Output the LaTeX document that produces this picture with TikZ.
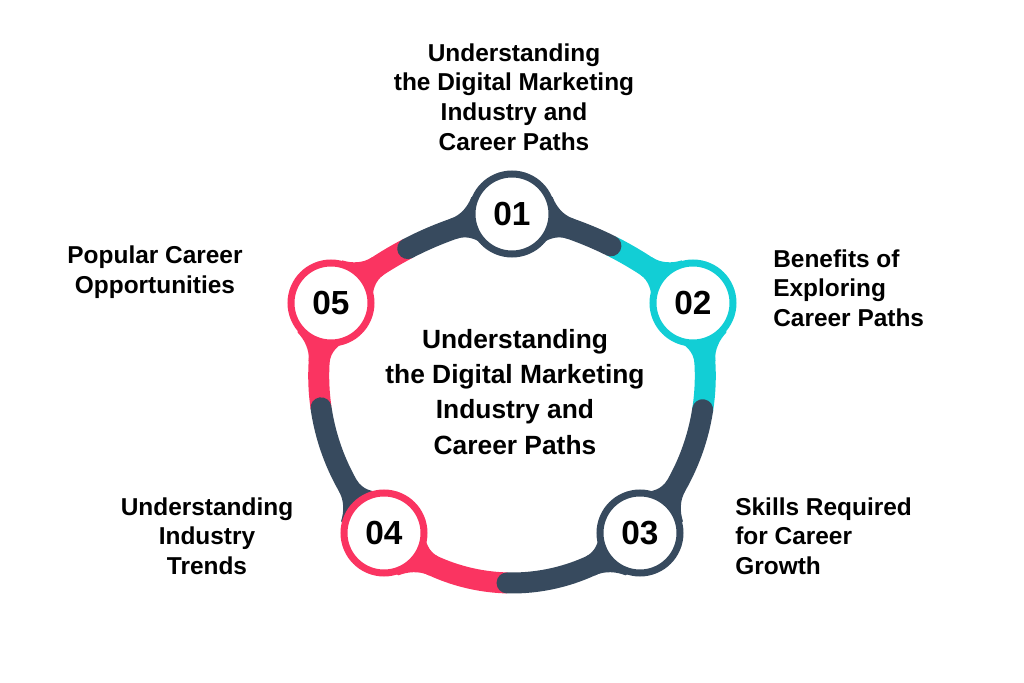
\documentclass[tikz,border=0pt]{standalone}
\usepackage{fontspec}
\setmainfont{Liberation Sans}
\usetikzlibrary{calc}
\definecolor{slate}{HTML}{374A5E}
\definecolor{aqua}{HTML}{12CED5}
\definecolor{rose}{HTML}{FA3461}

\newcommand{\ringneck}[5]{%
  \pgfmathsetmacro\nkA{#3+(#4)*1.2/#2*57.2958}%
  \pgfmathsetmacro\nkB{#3+(#4)*0.98/#2*57.2958}%
  \pgfmathsetmacro\nkC{#3+(#4)*0.80/#2*57.2958}%
  \pgfmathsetmacro\nkD{#3+(#4)*0.70/#2*57.2958}%
  \pgfmathsetmacro\nrA{#2+0.21}\pgfmathsetmacro\nrB{#2+0.35}%
  \pgfmathsetmacro\nrC{#2+0.5}\pgfmathsetmacro\nrD{#2+0.55}%
  \pgfmathsetmacro\nrE{#2-0.21}\pgfmathsetmacro\nrF{#2-0.35}%
  \pgfmathsetmacro\nrG{#2-0.5}\pgfmathsetmacro\nrH{#2-0.55}%
  \fill[#5] ($(#1)+(\nkA:\nrA)$) .. controls ($(#1)+(\nkB:\nrA)$) and ($(#1)+(\nkC:\nrB)$) .. ($(#1)+(\nkD:\nrC)$)
    -- ($(#1)+(#3:\nrD)$) -- ($(#1)+(#3:\nrH)$) -- ($(#1)+(\nkD:\nrG)$)
    .. controls ($(#1)+(\nkC:\nrF)$) and ($(#1)+(\nkB:\nrE)$) .. ($(#1)+(\nkA:\nrE)$) -- cycle;%
}

\tikzset{
  band/.style={line width=0.42cm},
  numnode/.style={circle, fill=white, line width=0.14cm, minimum size=1.6cm, inner sep=0pt,
    font=\fontsize{19}{22}\selectfont\bfseries},
  steplabel/.style={inner sep=0pt, font=\fontsize{13.9}{16.8}\selectfont\bfseries},
}

\begin{document}
\begin{tikzpicture}
\useasboundingbox (0,0) rectangle (20.48,-13.66);

\coordinate (c1) at (9.126,-11.118);
\coordinate (c2) at (9.67,-7.516);
\coordinate (c3) at (10.24,-7.884);
\coordinate (c4) at (10.81,-7.516);
\coordinate (c5) at (11.354,-11.118);

\draw[band,aqua] (c1) ++(63.5:6.93) arc (63.5:46.9:6.93);
\draw[band,aqua] (c2) ++(19.16:4.436) arc (19.16:-8.8:4.436);
\draw[band,rose] (c3) ++(-91.5:3.776) arc (-91.5:-132.7:3.776);
\draw[band,rose] (c4) ++(-171.7:4.436) arc (-171.7:-199.16:4.436);
\draw[band,rose] (c5) ++(133.1:6.93) arc (133.1:117.5:6.93);

\draw[band,slate,line cap=round] (c1) ++(80.75:6.93) arc (80.75:63.5:6.93);
\draw[band,slate,line cap=round] (c2) ++(-8.8:4.436) arc (-8.8:-45.13:4.436);
\draw[band,slate,line cap=round] (c3) ++(-47.3:3.776) arc (-47.3:-91.5:3.776);
\draw[band,slate,line cap=round] (c4) ++(-134.87:4.436) arc (-134.87:-171.7:4.436);
\draw[band,slate,line cap=round] (c5) ++(117.5:6.93) arc (117.5:99.25:6.93);

\ringneck{c1}{6.93}{80.75}{-1}{slate}
\ringneck{c1}{6.93}{46.9}{1}{aqua}
\ringneck{c2}{4.436}{19.16}{-1}{aqua}
\ringneck{c2}{4.436}{-45.13}{1}{slate}
\ringneck{c3}{3.776}{-47.3}{-1}{slate}
\ringneck{c3}{3.776}{-132.7}{1}{rose}
\ringneck{c4}{4.436}{-134.87}{-1}{slate}
\ringneck{c4}{4.436}{-199.16}{1}{rose}
\ringneck{c5}{6.93}{133.1}{-1}{rose}
\ringneck{c5}{6.93}{99.25}{1}{slate}

\node[numnode,draw=slate] (n1) at (10.24,-4.28) {01};
\node[numnode,draw=aqua] (n2) at (13.86,-6.06) {02};
\node[numnode,draw=slate] (n3) at (12.80,-10.66) {03};
\node[numnode,draw=rose] (n4) at (7.68,-10.66) {04};
\node[numnode,draw=rose] (n5) at (6.62,-6.06) {05};

\node[steplabel,align=center] (l1) at (10.28,-1.94) {Understanding\\the Digital Marketing\\Industry and\\Career Paths};
\node[steplabel,align=left,anchor=west] (l2) at (15.46,-5.76) {Benefits of\\Exploring\\Career Paths};
\node[steplabel,align=left,anchor=west] (l3) at (14.7,-10.72) {Skills Required\\for Career\\Growth};
\node[steplabel,align=center] (l4) at (4.14,-10.72) {Understanding\\Industry\\Trends};
\node[steplabel,align=center] (l5) at (3.1,-5.44) {Popular Career\\Opportunities};

\node[inner sep=0pt,align=center,font=\fontsize{15}{20}\selectfont\bfseries] (hub) at (10.3,-7.84)
  {Understanding\\the Digital Marketing\\Industry and\\Career Paths};
\end{tikzpicture}
\end{document}
